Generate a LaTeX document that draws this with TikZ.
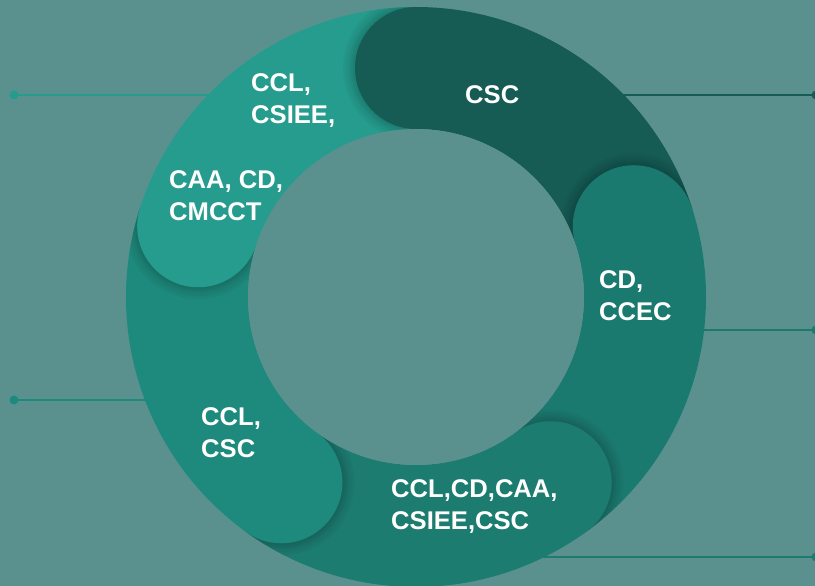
\documentclass[tikz,border=0pt]{standalone}
\usepackage{fontspec}
\setmainfont{Liberation Sans}
\definecolor{bgteal}{HTML}{5A918F}
\definecolor{seglight}{HTML}{269C8E}
\definecolor{segdark}{HTML}{165C55}
\definecolor{segright}{HTML}{1B7A6F}
\definecolor{segbottom}{HTML}{1D7C70}
\definecolor{segleft}{HTML}{1E8A7D}
\begin{document}
\begin{tikzpicture}[x=1pt,y=1pt,
    band/.style={line width=122pt},
    ringlabel/.style={text=white, font=\bfseries\fontsize{25.6}{32}\selectfont,
      align=left, anchor=north west, inner sep=0pt},
    leadline/.style={line width=2.4pt},
    leaddot/.style={circle, fill, inner sep=0pt, minimum size=9pt},
    capshadow/.style={fill=black, opacity=0.035}]
  \fill[bgteal] (-416,-289) rectangle (399,297);
  \useasboundingbox (-416,-289) rectangle (399,297);

  % lead lines, behind the ring
  \node[leaddot, seglight] (dotLT) at (-402,202) {};
  \node[leaddot, segleft] (dotLB) at (-402,-103) {};
  \node[leaddot, segdark] (dotRT) at (400,202) {};
  \node[leaddot, segright] (dotRM) at (400,-33) {};
  \node[leaddot, segbottom] (dotRB) at (400,-260) {};
  \coordinate (ringLT) at (-108,202);
  \coordinate (ringLB) at (-204,-103);
  \coordinate (ringRT) at (108,202);
  \coordinate (ringRM) at (226,-33);
  \coordinate (ringRB) at (60,-260);
  \draw[leadline, seglight] (dotLT.center) -- (ringLT);
  \draw[leadline, segleft] (dotLB.center) -- (ringLB);
  \draw[leadline, segdark] (dotRT.center) -- (ringRT);
  \draw[leadline, segright] (dotRM.center) -- (ringRM);
  \draw[leadline, segbottom] (dotRB.center) -- (ringRB);

  % ring bands
  \draw[band, segdark] (90:229) arc[start angle=90, end angle=18, radius=229];
  \draw[band, segright] (18:229) arc[start angle=18, end angle=-54, radius=229];
  \draw[band, segbottom] (-54:229) arc[start angle=-54, end angle=-126, radius=229];
  \draw[band, segleft] (-126:229) arc[start angle=-126, end angle=-198, radius=229];
  \draw[band, seglight] (162:229) arc[start angle=162, end angle=90, radius=229];

  % round heads with soft shadow on the band before them
  \begin{scope}
    \clip (0,0) -- (90:300) arc[start angle=90, end angle=162, radius=300] -- cycle;
    \clip (0,0) circle (290);
    \fill[capshadow] (90:229) circle (73);
    \fill[capshadow] (90:229) circle (70);
    \fill[capshadow] (90:229) circle (67);
    \fill[capshadow] (90:229) circle (65);
    \fill[capshadow] (90:229) circle (63);
  \end{scope}
  \fill[segdark] (90:229) circle (61);
  \begin{scope}
    \clip (0,0) -- (18:300) arc[start angle=18, end angle=90, radius=300] -- cycle;
    \clip (0,0) circle (290);
    \fill[capshadow] (18:229) circle (73);
    \fill[capshadow] (18:229) circle (70);
    \fill[capshadow] (18:229) circle (67);
    \fill[capshadow] (18:229) circle (65);
    \fill[capshadow] (18:229) circle (63);
  \end{scope}
  \fill[segright] (18:229) circle (61);
  \begin{scope}
    \clip (0,0) -- (-54:300) arc[start angle=-54, end angle=18, radius=300] -- cycle;
    \clip (0,0) circle (290);
    \fill[capshadow] (-54:229) circle (73);
    \fill[capshadow] (-54:229) circle (70);
    \fill[capshadow] (-54:229) circle (67);
    \fill[capshadow] (-54:229) circle (65);
    \fill[capshadow] (-54:229) circle (63);
  \end{scope}
  \fill[segbottom] (-54:229) circle (61);
  \begin{scope}
    \clip (0,0) -- (-126:300) arc[start angle=-126, end angle=-54, radius=300] -- cycle;
    \clip (0,0) circle (290);
    \fill[capshadow] (-126:229) circle (73);
    \fill[capshadow] (-126:229) circle (70);
    \fill[capshadow] (-126:229) circle (67);
    \fill[capshadow] (-126:229) circle (65);
    \fill[capshadow] (-126:229) circle (63);
  \end{scope}
  \fill[segleft] (-126:229) circle (61);
  \begin{scope}
    \clip (0,0) -- (162:300) arc[start angle=162, end angle=234, radius=300] -- cycle;
    \clip (0,0) circle (290);
    \fill[capshadow] (162:229) circle (73);
    \fill[capshadow] (162:229) circle (70);
    \fill[capshadow] (162:229) circle (67);
    \fill[capshadow] (162:229) circle (65);
    \fill[capshadow] (162:229) circle (63);
  \end{scope}
  \fill[seglight] (162:229) circle (61);
  \fill[bgteal] (0,0) circle (168);

  % labels
  \node[ringlabel] (lblTopLeft) at (-165,224) {CCL,\\CSIEE,};
  \node[ringlabel] (lblTop) at (49,212) {CSC};
  \node[ringlabel] (lblLeft) at (-247,127) {CAA, CD,\\CMCCT};
  \node[ringlabel] (lblRight) at (183,27) {CD,\\CCEC};
  \node[ringlabel] (lblLowLeft) at (-215,-110) {CCL,\\CSC};
  \node[ringlabel] (lblBottom) at (-25,-182) {CCL,CD,CAA,\\CSIEE,CSC};
\end{tikzpicture}
\end{document}
